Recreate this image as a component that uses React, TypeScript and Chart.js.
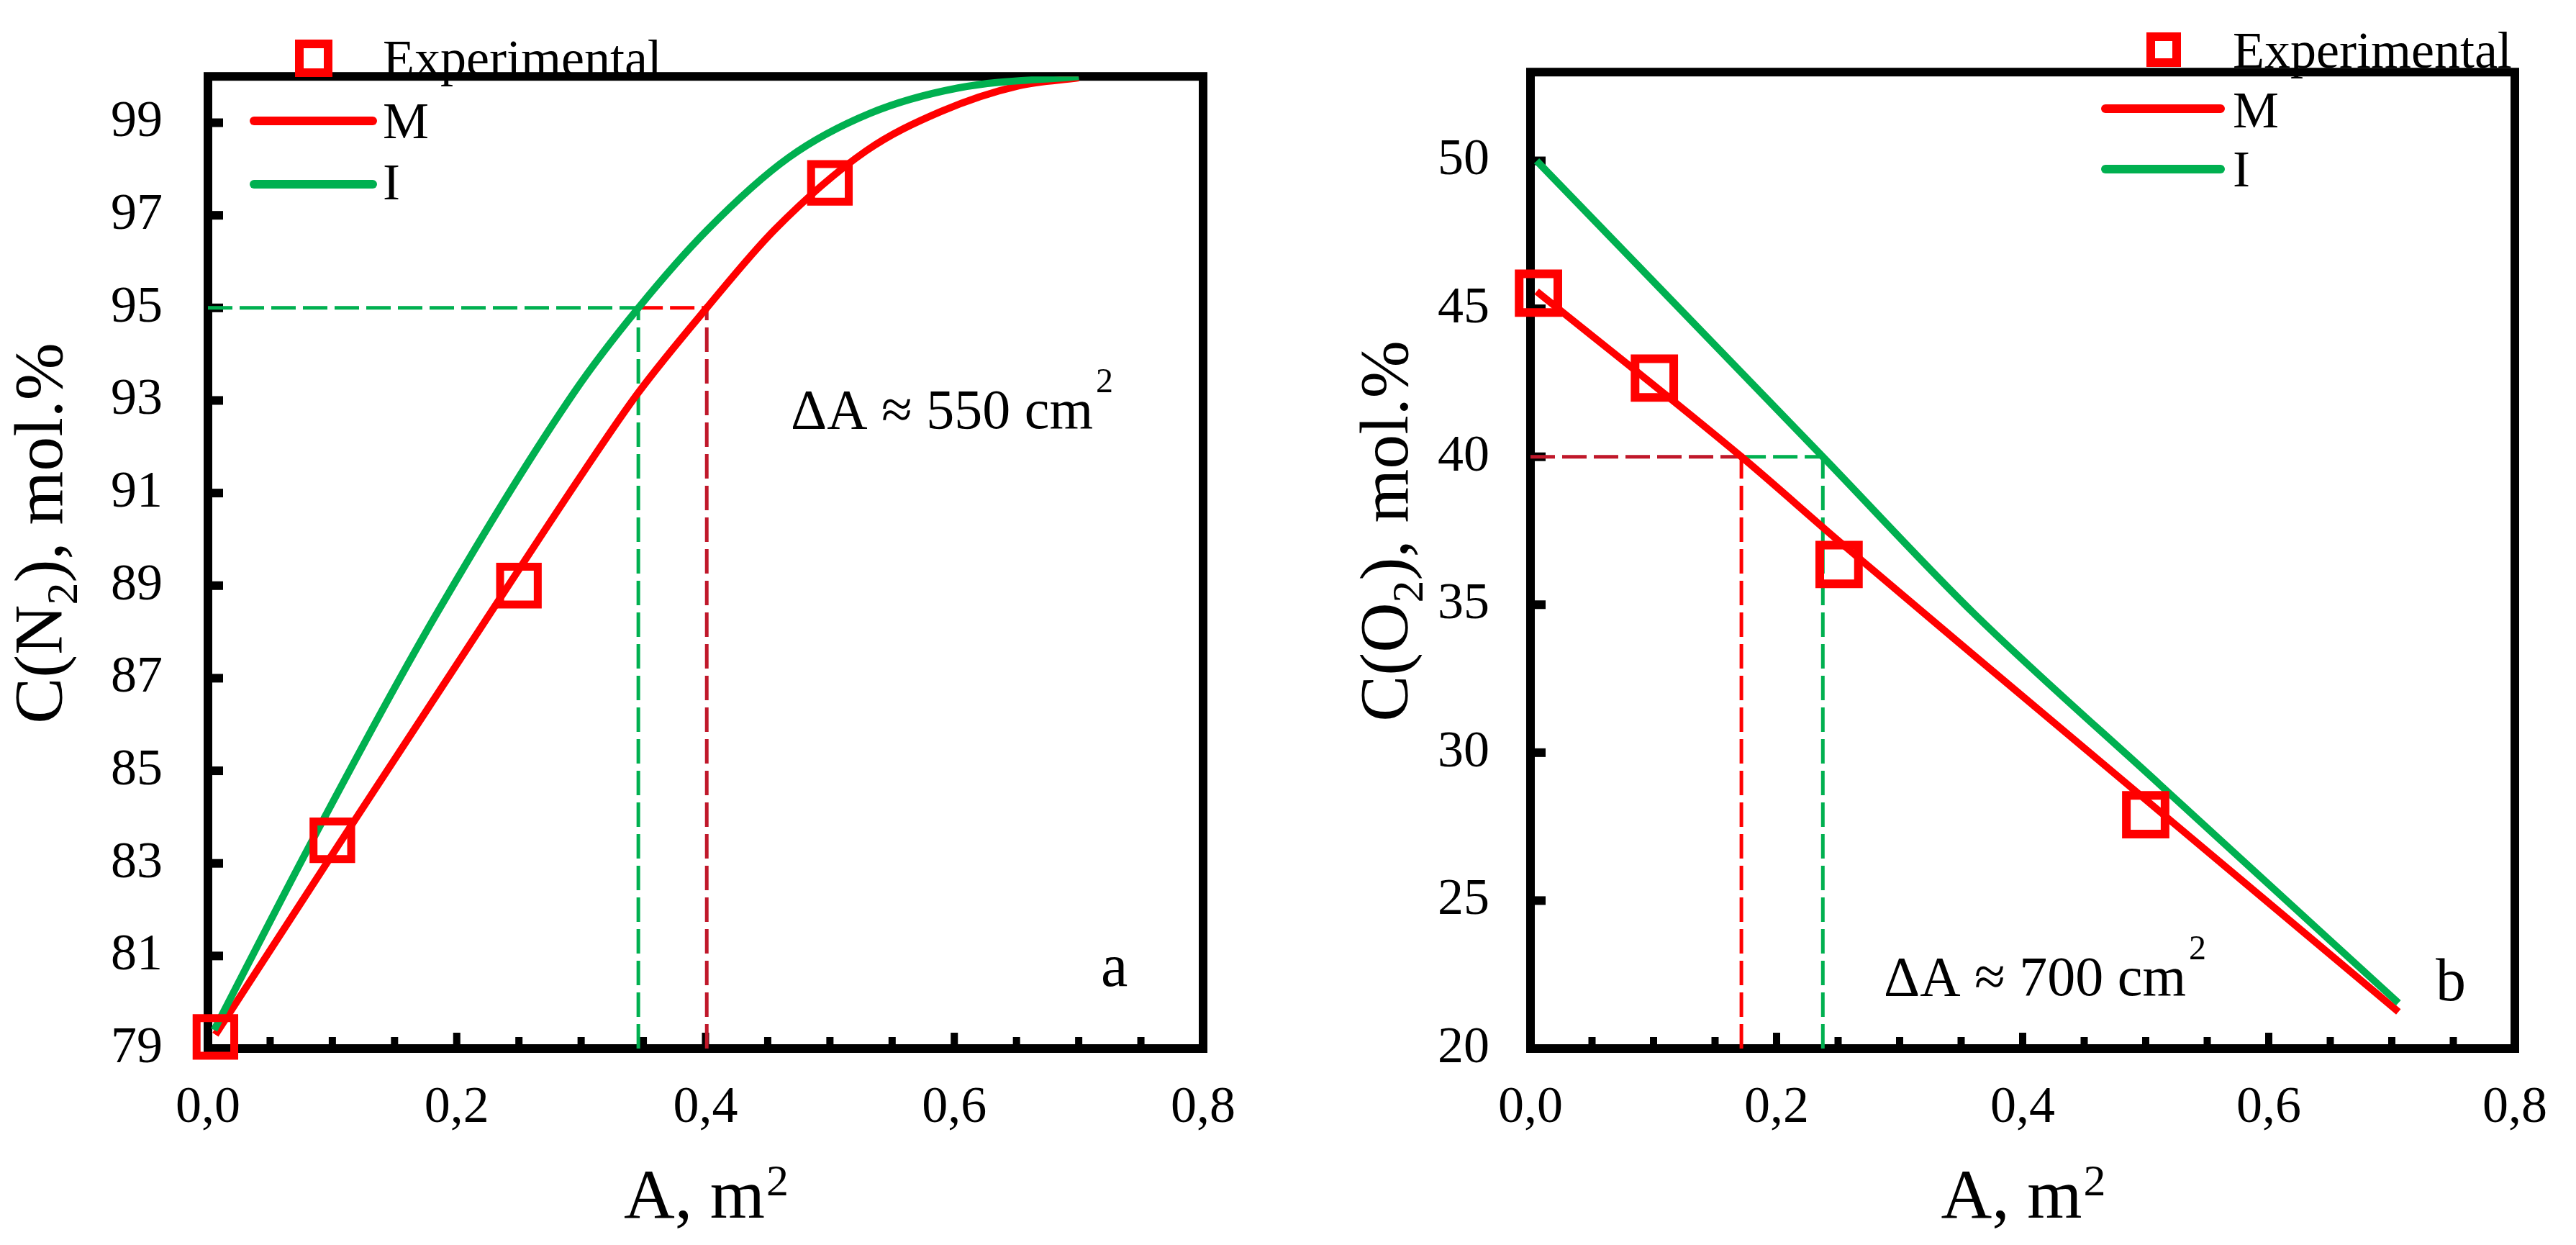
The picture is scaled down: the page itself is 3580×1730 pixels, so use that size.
import React, { useEffect, useRef } from 'react';
import { Chart, registerables } from 'chart.js';

Chart.register(...registerables);

const SERIF = '"Liberation Serif", "Times New Roman", Times, serif';
const RED = '#ff0000';
const DARK_RED = '#c0182a';
const GREEN = '#00b050';

// ---------- shared x axis ----------
const xMajorTicks = [0, 0.2, 0.4, 0.6, 0.8];
const xMinorTicks = [0.05, 0.1, 0.15, 0.25, 0.3, 0.35, 0.45, 0.5, 0.55, 0.65, 0.7, 0.75];
const seriesLabels = ['Experimental', 'M', 'I'];

// ---------- panel a : C(N2) ----------
const aYTicks = [79, 81, 83, 85, 87, 89, 91, 93, 95, 97, 99];
const aExpArea = [0.006, 0.1, 0.25, 0.5];
const aExpN2 = [79.25, 83.5, 89.0, 97.7];
const aMArea = [0.006, 0.105, 0.222, 0.303, 0.346, 0.401, 0.456, 0.529, 0.589, 0.652, 0.7];
const aMN2 = [79.3, 83.4, 88.2, 91.5, 93.17, 95.0, 96.7, 98.39, 99.24, 99.8, 99.97];
const aIArea = [0.005, 0.084, 0.184, 0.295, 0.346, 0.402, 0.467, 0.532, 0.603, 0.7];
const aIN2 = [79.4, 83.5, 88.4, 93.2, 95.0, 96.7, 98.25, 99.2, 99.75, 100.0];
const aLevel = 95;
const aCrossI = 0.346;
const aCrossM = 0.401;

// ---------- panel b : C(O2) ----------
const bYTicks = [20, 25, 30, 35, 40, 45, 50];
const bExpArea = [0.0065, 0.1007, 0.2508, 0.5];
const bExpO2 = [45.53, 42.66, 36.36, 27.9];
const bMArea = [0.005, 0.1714, 0.2508, 0.3595, 0.5, 0.7054];
const bMO2 = [45.59, 40.0, 37.14, 33.32, 28.41, 21.24];
const bIArea = [0.005, 0.2376, 0.3595, 0.512, 0.7054];
const bIO2 = [50.0, 40.0, 34.74, 28.9, 21.54];
const bLevel = 40;
const bCrossM = 0.1714;
const bCrossI = 0.2376;

const pts = (xs: number[], ys: number[]) => xs.map((x, i) => ({ x, y: ys[i] }));

type Guide = { data: { x: number; y: number }[]; color: string };

type Panel = {
  offsetX: number;
  area: { left: number; top: number; right: number; bottom: number };
  yMin: number;
  yMax: number;
  yTicks: number[];
  yTickPad: number;
  exp: { x: number; y: number }[];
  m: { x: number; y: number }[];
  i: { x: number; y: number }[];
  guides: Guide[];
  markerRadius: number;
  markerBorder: number;
  legend: {
    markerX: number; markerY: number; markerSize: number;
    textX: number; baselines: number[];
    lineX1: number; lineX2: number; lineYs: number[];
  };
  note: { text: string; x: number; y: number };
  letter: { text: string; x: number; y: number };
  yTitle: { pre: string; sub: string; post: string; x: number; y: number };
  xTitleBaseline: number;
};

const W = 1790;
const H = 1730;

const panelA: Panel = {
  offsetX: 0,
  area: { left: 289, top: 25, right: 1672, bottom: 1457 },
  yMin: 79,
  yMax: 100,
  yTicks: aYTicks,
  yTickPad: 63,
  exp: pts(aExpArea, aExpN2),
  m: pts(aMArea, aMN2),
  i: pts(aIArea, aIN2),
  guides: [
    { data: [{ x: 0, y: aLevel }, { x: aCrossI, y: aLevel }], color: GREEN },
    { data: [{ x: aCrossI, y: aLevel }, { x: aCrossM, y: aLevel }], color: RED },
    { data: [{ x: aCrossI, y: 79 }, { x: aCrossI, y: aLevel }], color: GREEN },
    { data: [{ x: aCrossM, y: 79 }, { x: aCrossM, y: aLevel }], color: DARK_RED },
  ],
  markerRadius: 37,
  markerBorder: 11,
  legend: {
    markerX: 436, markerY: 81, markerSize: 40,
    textX: 532, baselines: [105, 192, 277],
    lineX1: 353, lineX2: 518, lineYs: [168, 256],
  },
  note: { text: 'ΔA ≈ 550 cm', x: 1099, y: 595 },
  letter: { text: 'a', x: 1530, y: 1370 },
  yTitle: { pre: 'C(N', sub: '2', post: '), mol.%', x: 86, y: 741 },
  xTitleBaseline: 1692,
};

const panelB: Panel = {
  offsetX: 1790,
  area: { left: 337, top: 22, right: 1724, bottom: 1457 },
  yMin: 20,
  yMax: 53,
  yTicks: bYTicks,
  yTickPad: 57,
  exp: pts(bExpArea, bExpO2),
  m: pts(bMArea, bMO2),
  i: pts(bIArea, bIO2),
  guides: [
    { data: [{ x: 0, y: bLevel }, { x: bCrossM, y: bLevel }], color: DARK_RED },
    { data: [{ x: bCrossM, y: bLevel }, { x: bCrossI, y: bLevel }], color: GREEN },
    { data: [{ x: bCrossM, y: 20 }, { x: bCrossM, y: bLevel }], color: RED },
    { data: [{ x: bCrossI, y: 20 }, { x: bCrossI, y: bLevel }], color: GREEN },
  ],
  markerRadius: 38,
  markerBorder: 12,
  legend: {
    markerX: 1217, markerY: 69, markerSize: 36,
    textX: 1313, baselines: [94, 177, 259],
    lineX1: 1136, lineX2: 1296, lineYs: [151, 235],
  },
  note: { text: 'ΔA ≈ 700 cm', x: 828, y: 1383 },
  letter: { text: 'b', x: 1595, y: 1390 },
  yTitle: { pre: 'C(O', sub: '2', post: '), mol.%', x: 166, y: 738 },
  xTitleBaseline: 1692,
};

function drawYTitle(ctx: CanvasRenderingContext2D, p: Panel) {
  const t = p.yTitle;
  const size = 96;
  const main = `${size}px ${SERIF}`;
  const sub = `${Math.round(size * 0.65)}px ${SERIF}`;
  ctx.save();
  ctx.translate(t.x, t.y);
  ctx.rotate(-Math.PI / 2);
  ctx.fillStyle = '#000';
  ctx.textAlign = 'left';
  ctx.textBaseline = 'alphabetic';
  ctx.font = main;
  const w1 = ctx.measureText(t.pre).width;
  const w3 = ctx.measureText(t.post).width;
  ctx.font = sub;
  const w2 = ctx.measureText(t.sub).width;
  const x0 = -(w1 + w2 + w3) / 2;
  ctx.font = main;
  ctx.fillText(t.pre, x0, 0);
  ctx.font = sub;
  ctx.fillText(t.sub, x0 + w1, size * 0.22);
  ctx.font = main;
  ctx.fillText(t.post, x0 + w1 + w2, 0);
  ctx.restore();
}

function drawXTitle(ctx: CanvasRenderingContext2D, p: Panel, cx: number) {
  const size = 98;
  const main = `${size}px ${SERIF}`;
  const sup = `${Math.round(size * 0.63)}px ${SERIF}`;
  ctx.save();
  ctx.fillStyle = '#000';
  ctx.textAlign = 'left';
  ctx.textBaseline = 'alphabetic';
  ctx.font = main;
  const w1 = ctx.measureText('A, m').width;
  ctx.font = sup;
  const w2 = ctx.measureText('2').width;
  const x0 = cx - (w1 + w2) / 2;
  ctx.font = main;
  ctx.fillText('A, m', x0, p.xTitleBaseline);
  ctx.font = sup;
  ctx.fillText('2', x0 + w1 + 2, p.xTitleBaseline - size * 0.32);
  ctx.restore();
}

function makeDecor(p: Panel) {
  return {
    id: 'panelDecor',
    beforeDatasetsDraw(chart: any) {
      const { ctx, chartArea: ca } = chart;
      const xs = chart.scales.x;
      const ys = chart.scales.y;
      ctx.save();
      ctx.fillStyle = '#000';
      p.yTicks.forEach((v) => {
        const py = ys.getPixelForValue(v);
        ctx.fillRect(ca.left, py - 6, 21, 12);
      });
      xMinorTicks.forEach((v) => {
        const px = xs.getPixelForValue(v);
        ctx.fillRect(px - 5, ca.bottom - 16, 10, 16);
      });
      xMajorTicks.forEach((v) => {
        const px = xs.getPixelForValue(v);
        ctx.fillRect(px - 5, ca.bottom - 22, 10, 22);
      });
      ctx.strokeStyle = '#000';
      ctx.lineWidth = 12;
      ctx.lineJoin = 'miter';
      ctx.strokeRect(ca.left, ca.top, ca.right - ca.left, ca.bottom - ca.top);
      ctx.restore();
    },
    afterDraw(chart: any) {
      const { ctx, chartArea: ca } = chart;
      const L = p.legend;
      ctx.save();
      // legend
      ctx.strokeStyle = RED;
      ctx.lineWidth = 12;
      ctx.lineJoin = 'miter';
      ctx.strokeRect(L.markerX - L.markerSize / 2, L.markerY - L.markerSize / 2, L.markerSize, L.markerSize);
      ctx.lineCap = 'round';
      [RED, GREEN].forEach((c, k) => {
        ctx.strokeStyle = c;
        ctx.beginPath();
        ctx.moveTo(L.lineX1, L.lineYs[k]);
        ctx.lineTo(L.lineX2, L.lineYs[k]);
        ctx.stroke();
      });
      ctx.fillStyle = '#000';
      ctx.textAlign = 'left';
      ctx.textBaseline = 'alphabetic';
      ctx.font = `72px ${SERIF}`;
      seriesLabels.forEach((s, k) => ctx.fillText(s, L.textX, L.baselines[k]));
      // note
      ctx.font = `78px ${SERIF}`;
      ctx.fillText(p.note.text, p.note.x, p.note.y);
      const nw = ctx.measureText(p.note.text).width;
      ctx.font = `48px ${SERIF}`;
      ctx.fillText('2', p.note.x + nw + 4, p.note.y - 50);
      // panel letter
      ctx.font = `84px ${SERIF}`;
      ctx.fillText(p.letter.text, p.letter.x, p.letter.y);
      ctx.restore();
      drawYTitle(ctx, p);
      drawXTitle(ctx, p, (ca.left + ca.right) / 2);
    },
  };
}

function buildConfig(p: Panel): any {
  const guideSets = p.guides.map((g) => ({
    label: '',
    data: g.data,
    borderColor: g.color,
    borderWidth: 5,
    borderDash: [34, 10],
    pointRadius: 0,
    tension: 0,
    fill: false,
  }));
  return {
    type: 'line',
    data: {
      datasets: [
        {
          label: seriesLabels[0],
          data: p.exp,
          showLine: false,
          pointStyle: 'rect',
          pointRadius: p.markerRadius,
          pointHoverRadius: p.markerRadius,
          pointBorderColor: RED,
          pointBorderWidth: p.markerBorder,
          pointBackgroundColor: 'rgba(0,0,0,0)',
          borderColor: RED,
          backgroundColor: 'rgba(0,0,0,0)',
          clip: false,
        },
        {
          label: seriesLabels[2],
          data: p.i,
          borderColor: GREEN,
          borderWidth: 10,
          pointRadius: 0,
          cubicInterpolationMode: 'monotone',
          tension: 0.4,
          fill: false,
        },
        {
          label: seriesLabels[1],
          data: p.m,
          borderColor: RED,
          borderWidth: 10,
          pointRadius: 0,
          cubicInterpolationMode: 'monotone',
          tension: 0.4,
          fill: false,
        },
        ...guideSets,
      ],
    },
    options: {
      animation: false,
      responsive: false,
      devicePixelRatio: 1,
      events: [],
      layout: {
        padding: { left: 0, top: p.area.top, right: W - p.area.right, bottom: 0 },
      },
      plugins: {
        legend: { display: false },
        tooltip: { enabled: false },
        title: { display: false },
      },
      scales: {
        x: {
          type: 'linear',
          min: 0,
          max: 0.8,
          grid: { display: false, drawTicks: false, tickLength: 0 },
          border: { display: false },
          afterBuildTicks: (s: any) => {
            s.ticks = xMajorTicks.map((v) => ({ value: v }));
          },
          afterFit: (s: any) => {
            s.height = H - p.area.bottom;
          },
          ticks: {
            autoSkip: false,
            maxRotation: 0,
            minRotation: 0,
            padding: 40,
            color: '#000',
            font: { family: SERIF, size: 72 },
            callback: (v: any) => Number(v).toFixed(1).replace('.', ','),
          },
        },
        y: {
          type: 'linear',
          min: p.yMin,
          max: p.yMax,
          grid: { display: false, drawTicks: false, tickLength: 0 },
          border: { display: false },
          afterBuildTicks: (s: any) => {
            s.ticks = p.yTicks.map((v) => ({ value: v }));
          },
          afterFit: (s: any) => {
            s.width = p.area.left;
          },
          ticks: {
            autoSkip: false,
            padding: p.yTickPad,
            color: '#000',
            font: { family: SERIF, size: 72 },
            callback: (v: any) => String(v),
          },
        },
      },
    },
    plugins: [makeDecor(p)],
  };
}

function PanelChart({ panel }: { panel: Panel }) {
  const ref = useRef<HTMLCanvasElement | null>(null);
  useEffect(() => {
    if (!ref.current) return;
    const chart = new Chart(ref.current, buildConfig(panel));
    return () => chart.destroy();
  }, [panel]);
  return (
    <canvas
      ref={ref}
      width={W}
      height={H}
      style={{ position: 'absolute', left: panel.offsetX, top: 0, width: W, height: H }}
    />
  );
}

export default function App() {
  return (
    <div
      style={{
        position: 'absolute',
        left: 0,
        top: 0,
        width: 3580,
        height: 1730,
        background: '#ffffff',
        overflow: 'hidden',
      }}
    >
      <PanelChart panel={panelA} />
      <PanelChart panel={panelB} />
    </div>
  );
}
